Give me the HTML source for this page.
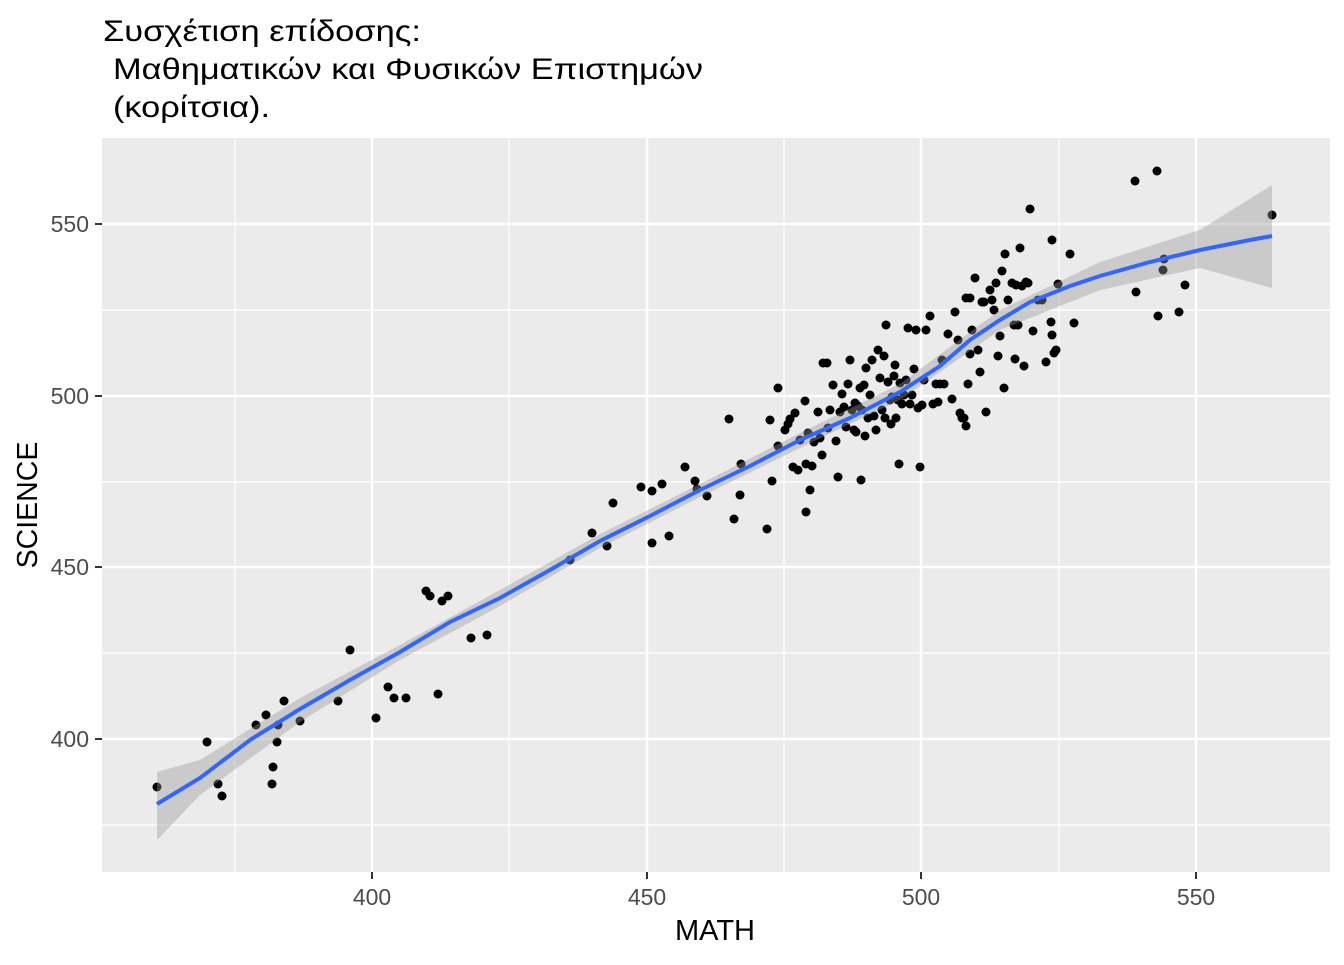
<!DOCTYPE html>
<html><head><meta charset="utf-8"><style>
html,body{margin:0;padding:0;background:#fff;}
text{font-family:"Liberation Sans","DejaVu Sans",sans-serif;}
</style></head><body>
<svg width="1344" height="960" xmlns="http://www.w3.org/2000/svg">
<rect width="1344" height="960" fill="#fff"/>
<text x="103" y="41" font-size="30" fill="#000" textLength="318" lengthAdjust="spacingAndGlyphs">Συσχέτιση επίδοσης:</text>
<text x="113" y="79" font-size="30" fill="#000" textLength="590" lengthAdjust="spacingAndGlyphs">Μαθηματικών και Φυσικών Επιστημών</text>
<text x="113" y="117" font-size="30" fill="#000" textLength="157" lengthAdjust="spacingAndGlyphs">(κορίτσια).</text>
<rect x="102" y="138" width="1228" height="734" fill="#ebebeb"/>
<g stroke="#fff" stroke-width="1.2">
<line x1="235" y1="138" x2="235" y2="872"/><line x1="509" y1="138" x2="509" y2="872"/><line x1="784" y1="138" x2="784" y2="872"/><line x1="1059" y1="138" x2="1059" y2="872"/>
<line x1="102" y1="310" x2="1330" y2="310"/><line x1="102" y1="482" x2="1330" y2="482"/><line x1="102" y1="653" x2="1330" y2="653"/><line x1="102" y1="825" x2="1330" y2="825"/>
</g>
<g stroke="#fff" stroke-width="2.4">
<line x1="372" y1="138" x2="372" y2="872"/><line x1="647" y1="138" x2="647" y2="872"/><line x1="921" y1="138" x2="921" y2="872"/><line x1="1196" y1="138" x2="1196" y2="872"/>
<line x1="102" y1="224" x2="1330" y2="224"/><line x1="102" y1="396" x2="1330" y2="396"/><line x1="102" y1="567" x2="1330" y2="567"/><line x1="102" y1="739" x2="1330" y2="739"/>
</g>
<g fill="#000" id="pts"></g>
<path d="M157,772 L200,760 L300,698 L400,645 L500,590 L600,534 L700,484 L800,433 L900,384 L1000,310 L1100,262 L1200,230 L1272,185 L1272,288 L1200,268 L1100,290 L1000,330 L900,400 L800,448 L700,497 L600,548 L500,606 L400,660 L300,722 L200,795 L157,840 Z" fill="#999" fill-opacity="0.4"/>
<polyline fill="none" stroke="#3366ff" stroke-width="4" points="157,804 200,778 250,740 300,709 350,680 400,652 450,622 500,598 550,570 600,541 650,516 700,490 750,466 800,440 850,418 900,392 940,366 970,340 1000,320 1030,302 1070,286 1100,276 1150,262 1200,250 1250,240 1272,236"/>
<g stroke="#333" stroke-width="2">
<line x1="372" y1="872" x2="372" y2="879"/><line x1="647" y1="872" x2="647" y2="879"/><line x1="921" y1="872" x2="921" y2="879"/><line x1="1196" y1="872" x2="1196" y2="879"/>
<line x1="95" y1="224" x2="102" y2="224"/><line x1="95" y1="396" x2="102" y2="396"/><line x1="95" y1="567" x2="102" y2="567"/><line x1="95" y1="739" x2="102" y2="739"/>
</g>
<g font-size="23" fill="#4d4d4d" text-anchor="middle">
<text x="372" y="905">400</text><text x="647" y="905">450</text><text x="921" y="905">500</text><text x="1196" y="905">550</text>
</g>
<g font-size="23" fill="#4d4d4d" text-anchor="end">
<text x="89" y="232">550</text><text x="89" y="404">500</text><text x="89" y="575">450</text><text x="89" y="747">400</text>
</g>
<text x="715" y="940" font-size="29" text-anchor="middle" fill="#000">MATH</text>
<text transform="translate(37,505) rotate(-90)" font-size="28.5" text-anchor="middle" fill="#000">SCIENCE</text>
</svg>
<script>
var p=[[157,787],[207,742],[218,784],[222,796],[256,725],[266,715],[273,767],[272,784],[277,742],[278,725],[284,701],[300,721],[338,701],[350,650],[376,718],[388,687],[394,698],[406,698],[438,694],[426,591],[430,596],[442,601],[448,596],[471,638],[487,635],[570,560],[592,533],[607,546],[613,503],[641,487],[652,491],[652,543],[662,484],[669,536],[685,467],[695,481],[697,489],[707,496],[729,419],[734,519],[740,495],[741,464],[767,529],[770,420],[772,481],[778,388],[778,446],[785,430],[788,424],[790,419],[793,467],[795,413],[798,470],[800,440],[805,401],[806,464],[806,512],[808,433],[810,490],[812,466],[814,442],[818,412],[820,438],[822,455],[823,363],[827,363],[828,428],[830,410],[833,385],[836,441],[838,477],[840,412],[842,394],[844,407],[846,427],[848,384],[850,360],[852,410],[854,430],[855,403],[856,432],[858,406],[860,388],[861,480],[862,410],[864,385],[865,436],[866,368],[868,418],[870,395],[872,360],[874,416],[876,430],[878,350],[880,378],[882,410],[884,356],[885,418],[886,325],[888,382],[890,400],[891,424],[892,397],[894,376],[895,365],[896,418],[898,400],[899,464],[900,383],[902,404],[904,395],[906,380],[908,328],[910,404],[912,395],[914,369],[916,330],[918,408],[920,467],[922,405],[924,380],[926,330],[930,316],[933,404],[936,384],[938,402],[940,384],[942,360],[944,384],[948,334],[952,399],[955,312],[958,340],[960,413],[962,418],[964,418],[966,298],[966,426],[968,384],[970,298],[970,354],[972,330],[975,278],[978,350],[980,372],[982,302],[984,302],[986,412],[990,290],[992,300],[994,310],[996,283],[998,356],[1000,336],[1002,271],[1004,388],[1005,254],[1008,300],[1012,283],[1014,325],[1015,359],[1016,285],[1018,325],[1020,248],[1022,286],[1024,366],[1026,282],[1028,283],[1030,209],[1033,331],[1038,300],[1042,300],[1046,362],[1051,322],[1052,335],[1052,240],[1054,353],[1056,350],[1058,284],[1070,254],[1074,323],[1135,181],[1136,292],[1157,171],[1158,316],[1163,270],[1164,259],[1179,312],[1185,285],[1272,215]];
var g=document.getElementById('pts'),s='';
p.forEach(function(q){s+='<circle cx="'+q[0]+'" cy="'+q[1]+'" r="4.5"/>';});
g.innerHTML=s;
</script>
</body></html>
